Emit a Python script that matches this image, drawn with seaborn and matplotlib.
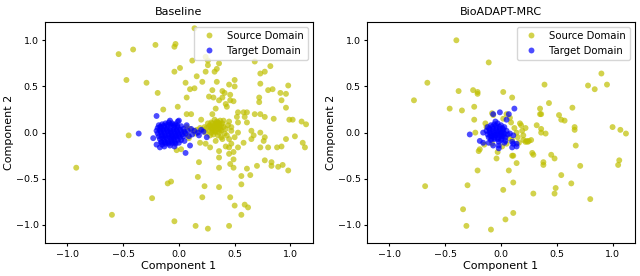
import numpy as np
import pandas as pd
import seaborn as sns
import matplotlib.pyplot as plt

# Baseline, source domain (component 1, component 2)
base_src_x = [-0.54, -0.41, -0.21, -0.03, -0.04, 0.14, -0.04, 0.01, -0.47, -0.29, -0.19, 0.06, 0.10, 0.14,
              0.07, -0.14, -0.01, 0.07, 0.11, -0.45, 0.20,
              0.12, 0.24, 0.26, 0.26, 0.24, 0.32, 0.34, 0.36, 0.16, 0.21, 0.34, 0.45, 0.50, 0.50, 0.30,
              0.39, 0.41, 0.27, 0.31, 0.36, 0.39, 0.46, 0.46, 0.49, 0.42, 0.43, 0.33, 0.30, 0.53, 0.58,
              0.61, 0.52, 0.59, 0.68, 0.73, 0.77, 0.68, 0.73, 0.77, 0.82, 0.73, 0.72, 0.72, 0.80, 0.84,
              0.91, 0.96, 0.98, 0.92, 0.96, 0.85, 0.99, 1.02, 1.10, 1.14,
              0.25, 0.28, 0.30, 0.32, 0.33, 0.35, 0.36, 0.38, 0.40, 0.34, 0.30, 0.27, 0.29, 0.31, 0.36,
              0.39, 0.42, 0.44, 0.37, 0.32, 0.26, 0.23, 0.21, 0.35, 0.41, 0.33, 0.31, 0.34, 0.37, 0.29,
              0.40, 0.45, 0.43, 0.47, 0.38, 0.28, 0.24, 0.19, 0.16, 0.13, 0.10, 0.07, 0.05, 0.08,
              0.47, 0.53, 0.61, 0.65, 0.67, 0.65, 0.58, 0.53, 0.47, 0.45, 0.42, 0.45, 0.49, 0.49, 0.46,
              0.36, 0.36, 0.28, 0.24, 0.19, 0.33, 0.39, 0.45, 0.50, 0.53, 0.73, 0.77, 0.76, 0.73, 0.80,
              0.88, 0.92, 0.96, 1.04, 1.11, 1.13, 0.77, 0.70, 0.61, 0.56, 0.64, 0.83, 0.83, 0.89, 0.93,
              0.98, 0.49, 0.36, 0.18, 0.17, 0.23, 0.36, 0.56, -0.07, -0.10, -0.24, 0.21, 0.46, 0.50,
              0.59, 0.62, 0.56, -0.04, 0.15, 0.26, 0.45, -0.60, -0.92, -0.02, 0.02, 0.09, 0.15,
              0.27, 0.30, 0.34, 0.37, 0.32, 0.35, 0.29, 0.33, 0.38, 0.36]
base_src_y = [0.85, 0.90, 0.95, 0.96, 0.93, 1.13, 0.66, 0.70, 0.57, 0.54, 0.43, 0.54, 0.47, 0.48,
              0.38, 0.25, 0.28, 0.20, 0.20, -0.03, 0.14,
              0.78, 0.82, 0.78, 0.73, 0.66, 0.66, 0.69, 0.75, 0.61, 0.55, 0.55, 0.52, 0.57, 0.50, 0.46,
              0.45, 0.43, 0.39, 0.38, 0.35, 0.38, 0.41, 0.35, 0.34, 0.31, 0.28, 0.26, 0.20, 0.22, 0.22,
              0.22, 0.17, 0.17, 0.20, 0.20, 0.17, 0.77, 0.64, 0.66, 0.72, 0.53, 0.38, 0.33, 0.46, 0.47,
              0.43, 0.42, 0.51, 0.35, 0.27, 0.15, 0.14, 0.14, 0.12, 0.09,
              0.05, 0.08, 0.03, 0.06, 0.10, 0.04, 0.08, 0.02, 0.06, 0.12, 0.10, 0.02, 0.00, -0.02, 0.00,
              0.10, 0.04, 0.08, 0.13, 0.14, 0.10, 0.06, 0.03, -0.03, -0.01, 0.01, 0.07, 0.07, 0.05, 0.05,
              0.13, 0.12, -0.03, 0.02, -0.05, -0.03, 0.00, 0.05, 0.03, 0.02, 0.04, 0.06, 0.00, -0.03,
              0.06, 0.11, 0.11, 0.02, -0.03, -0.07, -0.11, -0.16, -0.12, -0.16, -0.15, -0.23, -0.21, -0.29, -0.34,
              -0.20, -0.27, -0.16, -0.12, -0.11, -0.09, -0.07, -0.07, -0.05, 0.00, 0.00, -0.05, -0.09, -0.16, -0.16,
              -0.16, -0.15, -0.07, -0.04, -0.11, -0.16, -0.30, -0.36, -0.39, -0.47, -0.46, -0.32, -0.36, -0.37, -0.35,
              -0.41, -0.38, -0.38, -0.32, -0.48, -0.58, -0.59, -0.56, -0.53, -0.55, -0.71, -0.70, -0.70, -0.79,
              -0.78, -0.81, -0.89, -0.96, -1.01, -1.04, -1.01, -0.89, -0.38, -0.19, -0.18, -0.06, -0.01,
              0.07, 0.05, 0.09, 0.03, 0.01, 0.11, 0.11, 0.03, 0.08, 0.10]

# Baseline, target domain
base_tgt_x = [-0.18, -0.15, -0.12, -0.09, -0.06, -0.03, -0.01,
              -0.19, -0.16, -0.13, -0.10, -0.07, -0.04, -0.01, 0.02,
              -0.20, -0.17, -0.14, -0.11, -0.08, -0.05, -0.02, 0.01, 0.04,
              -0.19, -0.16, -0.13, -0.10, -0.07, -0.04, -0.01, 0.02, 0.05, 0.08,
              -0.18, -0.15, -0.12, -0.09, -0.06, -0.03, 0.00, 0.03, 0.06,
              -0.17, -0.14, -0.11, -0.08, -0.05, -0.02, 0.01, 0.04,
              -0.16, -0.13, -0.10, -0.07, -0.04, -0.01, 0.02,
              -0.15, -0.12, -0.09, -0.06, -0.03, 0.00,
              -0.20, -0.17, -0.13, -0.08, -0.04,
              -0.36, -0.23, -0.20, 0.06, 0.10, 0.25, 0.11, 0.14, 0.17, 0.20, 0.18, 0.22, 0.00, -0.08,
              0.07, 0.09, 0.12, 0.05,
              -0.165, -0.135, -0.105, -0.075, -0.045, -0.015, -0.165, -0.135, -0.105, -0.075, -0.045, -0.015,
              -0.155, -0.125, -0.095, -0.065, -0.035, -0.005, -0.155, -0.125, -0.095, -0.065, -0.035]
base_tgt_y = [0.08, 0.09, 0.10, 0.11, 0.10, 0.09, 0.12,
              0.05, 0.06, 0.06, 0.07, 0.07, 0.06, 0.06, 0.07,
              0.02, 0.03, 0.03, 0.04, 0.03, 0.03, 0.03, 0.03, 0.04,
              -0.01, 0.00, 0.00, 0.01, 0.00, 0.00, 0.00, 0.01, 0.01, 0.02,
              -0.04, -0.03, -0.03, -0.02, -0.03, -0.03, -0.02, -0.02, -0.01,
              -0.07, -0.06, -0.06, -0.05, -0.06, -0.05, -0.05, -0.04,
              -0.10, -0.09, -0.09, -0.08, -0.09, -0.08, -0.08,
              -0.13, -0.12, -0.12, -0.11, -0.12, -0.11,
              -0.13, -0.16, -0.15, -0.14, -0.15,
              -0.01, -0.06, 0.18, -0.22, -0.14, -0.05, 0.04, 0.02, 0.00, 0.03, -0.03, 0.01, 0.13, 0.13,
              0.08, -0.04, -0.02, -0.09,
              0.065, 0.075, 0.085, 0.09, 0.08, 0.075, 0.015, 0.015, 0.025, 0.015, 0.015, 0.015,
              -0.045, -0.045, -0.035, -0.045, -0.045, -0.035, -0.105, -0.105, -0.105, -0.095, -0.105]

# BioADAPT-MRC, source domain
bio_src_x = [-0.40, -0.11, -0.66, -0.78, -0.38, -0.25, -0.21, -0.21, -0.46, -0.35, -0.24, -0.24, -0.08,
             -0.13, -0.23, -0.20, -0.21, -0.30, -0.68, -0.34, -0.31, -0.09, -0.04, -0.15,
             0.90, 0.95, 0.78, 0.84, 0.39, 0.64, 0.43, 0.35, 0.36, 0.52, 0.54, 0.57, 0.66, 0.66, 0.67,
             1.00, 1.07, 1.12, 0.32, 0.36, 0.40, 0.27, 0.23, 0.28, 0.29, 0.45, 0.48, 0.38, 0.38, 0.71,
             1.06, 1.05, 0.54, 0.63, 0.49, 0.48, 0.29, 0.80, 0.02, 0.11, 0.07, 0.14, 0.11, 0.04, 0.10,
             0.11, 0.02, 0.10,
             -0.07, 0.05, 0.09, 0.19, 0.20, 0.25, 0.22, 0.16, 0.35, 0.36, -0.19, -0.03,
             0.12, 0.15, 0.18, 0.07, 0.10, 0.14, -0.08, 0.05, -0.14, 0.02, 0.08, 0.22, 0.17, 0.20,
             0.24, 0.01]
bio_src_y = [1.00, 0.76, 0.54, 0.35, 0.45, 0.46, 0.44, 0.42, 0.26, 0.24, 0.28, 0.14, 0.21,
             0.06, 0.00, -0.20, -0.41, -0.57, -0.58, -0.83, -1.01, -1.05, -0.28, -0.13,
             0.64, 0.52, 0.51, 0.47, 0.52, 0.27, 0.32, 0.26, 0.20, 0.19, 0.14, 0.13, 0.06, 0.03, -0.14,
             0.06, 0.03, -0.01, 0.08, 0.04, -0.01, -0.08, -0.09, -0.22, -0.24, -0.24, -0.28, -0.32, -0.35, -0.36,
             -0.30, -0.35, -0.46, -0.55, -0.60, -0.66, -0.66, -0.72, -0.62, -0.54, -0.41, -0.33, -0.87, -0.94, -0.25,
             -0.25, 0.44, 0.38,
             0.19, 0.20, 0.11, 0.02, -0.03, -0.09, -0.10, -0.11, 0.20, 0.00, -0.18, -0.21,
             0.05, -0.05, 0.08, -0.06, -0.08, 0.00, -0.12, -0.12, 0.10, 0.15, 0.16, 0.05, 0.10, -0.08,
             -0.10, -0.15]

# BioADAPT-MRC, target domain
bio_tgt_x = [-0.12, -0.09, -0.06, -0.03, 0.00, 0.03,
             -0.13, -0.10, -0.07, -0.04, -0.01, 0.02, 0.05,
             -0.12, -0.09, -0.06, -0.03, 0.00, 0.03, 0.06,
             -0.11, -0.08, -0.05, -0.02, 0.01, 0.04,
             -0.09, -0.06, -0.03, 0.00, -0.05, -0.02,
             -0.07, -0.01, 0.07, 0.12, 0.05, -0.28, -0.16, -0.16, -0.11, -0.07, -0.02, -0.02,
             0.04, 0.08, 0.10, 0.10, 0.14, 0.14, 0.11, 0.11, 0.03, -0.19,
             -0.105, -0.075, -0.045, -0.015, 0.015, -0.105, -0.075, -0.045, -0.015, 0.015,
             -0.095, -0.065, -0.035, -0.005, 0.025, -0.085, -0.055, -0.025, 0.005]
bio_tgt_y = [0.06, 0.08, 0.09, 0.10, 0.08, 0.06,
             0.02, 0.03, 0.04, 0.05, 0.04, 0.03, 0.02,
             -0.02, -0.01, 0.00, 0.01, 0.00, -0.01, -0.02,
             -0.05, -0.04, -0.03, -0.03, -0.04, -0.05,
             -0.08, -0.07, -0.07, -0.08, 0.12, -0.10,
             0.20, 0.22, 0.20, 0.26, 0.14, -0.02, 0.00, -0.11, -0.11, -0.14, -0.14, -0.17,
             -0.09, -0.01, -0.10, -0.16, -0.12, -0.15, -0.03, -0.12, -0.11, -0.09,
             0.045, 0.065, 0.075, 0.065, 0.045, 0.005, 0.015, 0.025, 0.015, 0.005,
             -0.035, -0.025, -0.015, -0.025, -0.035, -0.065, -0.055, -0.055, -0.065]

titles = ['Baseline', 'BioADAPT-MRC']
domains = ['Source Domain', 'Target Domain']


def make_df(sx, sy, tx, ty):
    src = pd.DataFrame({'c1': sx, 'c2': sy, 'domain': domains[0]})
    tgt = pd.DataFrame({'c1': tx, 'c2': ty, 'domain': domains[1]})
    return pd.concat([src, tgt], ignore_index=True)


frames = [make_df(base_src_x, base_src_y, base_tgt_x, base_tgt_y),
          make_df(bio_src_x, bio_src_y, bio_tgt_x, bio_tgt_y)]

fig, axes = plt.subplots(1, 2, figsize=(6.4, 2.76), dpi=100)
fig.subplots_adjust(left=0.0703, right=0.992, top=0.921, bottom=0.118, wspace=0.203)

for ax, df, title in zip(axes, frames, titles):
    sns.scatterplot(data=df, x='c1', y='c2', hue='domain', hue_order=domains,
                    palette={'Source Domain': 'y', 'Target Domain': 'b'},
                    alpha=0.7, s=18, edgecolor='none', ax=ax)
    ax.set_xlim(-1.2, 1.2)
    ax.set_ylim(-1.2, 1.2)
    ax.set_xticks([-1.0, -0.5, 0.0, 0.5, 1.0])
    ax.set_yticks([-1.0, -0.5, 0.0, 0.5, 1.0])
    ax.tick_params(labelsize=6.8, length=2.5, pad=2)
    ax.set_xlabel('Component 1', fontsize=8, labelpad=1.5)
    ax.set_ylabel('Component 2', fontsize=8, labelpad=1.5)
    ax.set_title(title, fontsize=8, pad=5)
    handles, labels = ax.get_legend_handles_labels()
    ax.legend(handles, labels, loc='upper right', fontsize=7.3)

fig.savefig('out.png')
